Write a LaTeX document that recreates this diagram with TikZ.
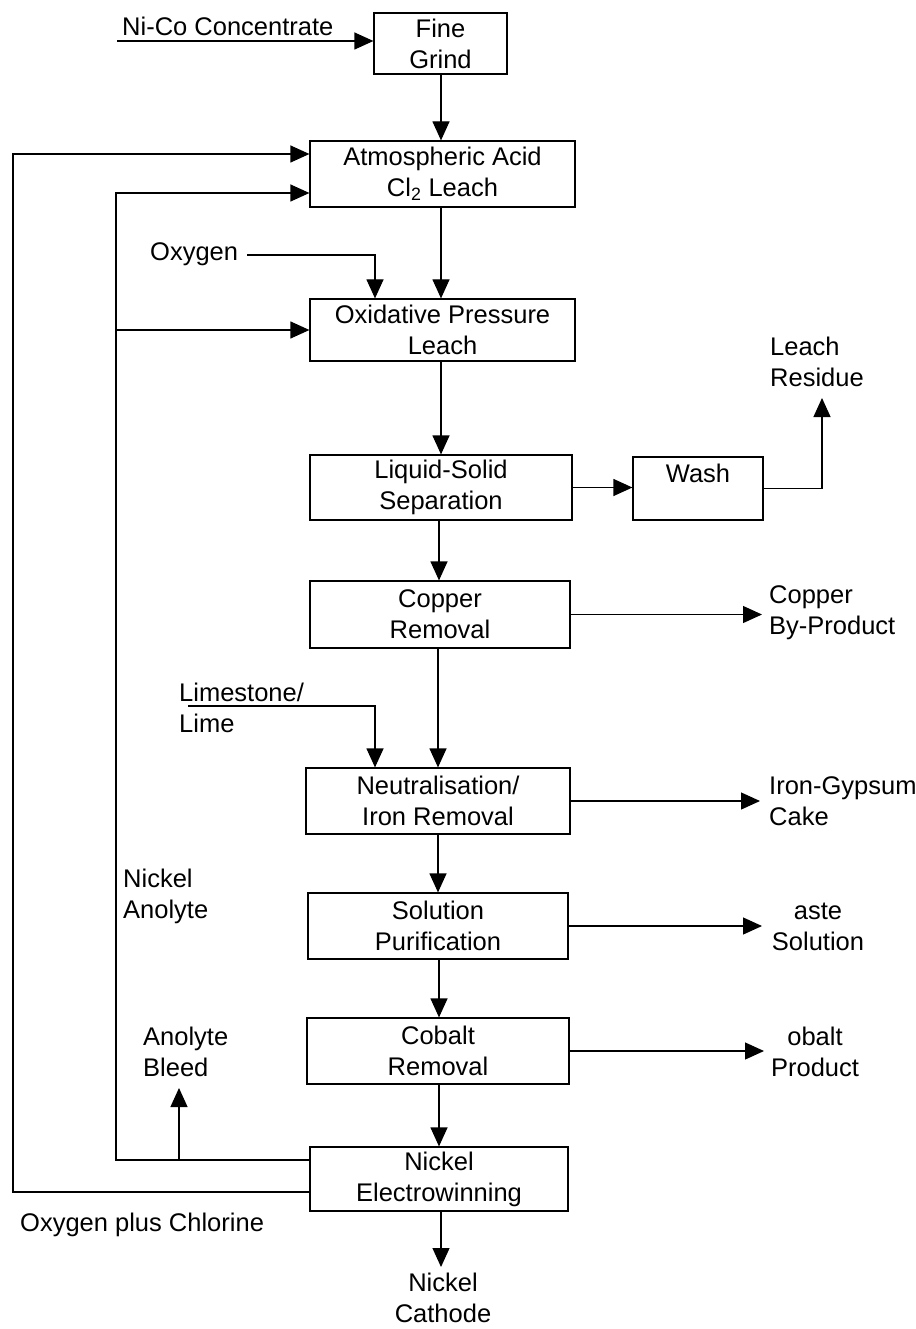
\documentclass[tikz,border=0pt]{standalone}
\usepackage{fontspec}
\setmainfont{Liberation Sans}
\usetikzlibrary{arrows.meta}
\tikzset{
  arr/.style={line width=1.2bp,-{Triangle[length=19bp,width=17bp]}},
  ln/.style={line width=1.2bp},
  box/.style={draw,line width=1.2bp,inner sep=0pt,align=center},
  lbl/.style={inner sep=0pt,align=left},
  clbl/.style={inner sep=0pt,align=center}
}
\begin{document}
\begin{tikzpicture}[x=1bp,y=-1bp,font=\fontsize{25.5bp}{31bp}\selectfont]
\useasboundingbox (0,0) rectangle (915,1329);
% process boxes
\node[box,minimum width=133bp,minimum height=61bp] (fg) at (440.5,43.5) {Fine\\Grind};
\node[box,minimum width=265bp,minimum height=66bp] (at) at (442.5,174) {Atmospheric Acid\\Cl\textsubscript{2} Leach};
\node[box,minimum width=265bp,minimum height=62bp] (ox) at (442.5,330) {Oxidative Pressure\\Leach};
\node[box,minimum width=262bp,minimum height=65bp] (ls) at (441,487.5) {Liquid-Solid\\Separation};
\node[box,minimum width=130bp,minimum height=63bp] (wa) at (698,488.5) {Wash\\\mbox{}};
\node[box,minimum width=260bp,minimum height=67bp] (cu) at (440,614.5) {Copper\\Removal};
\node[box,minimum width=264bp,minimum height=66bp] (ne) at (438,801) {Neutralisation/\\Iron Removal};
\node[box,minimum width=260bp,minimum height=66bp] (sp) at (438,926) {Solution\\Purification};
\node[box,minimum width=262bp,minimum height=66bp] (co) at (438,1051) {Cobalt\\Removal};
\node[box,minimum width=258bp,minimum height=64bp] (ni) at (439,1179) {Nickel\\Electrowinning};
% labels
\node[lbl,anchor=west] (nico) at (122,26) {Ni-Co Concentrate};
\node[lbl,anchor=west] (oxy) at (150,254) {Oxygen};
\node[lbl,anchor=west] (res) at (770,362) {Leach\\Residue};
\node[lbl,anchor=west] (cbp) at (769,612.5) {Copper\\By-Product};
\node[lbl,anchor=west] (lime) at (179,707.5) {Limestone/\\Lime};
\node[lbl,anchor=west] (igc) at (769,801) {Iron-Gypsum\\Cake};
\node[lbl,anchor=west] (nan) at (123,896) {Nickel\\Anolyte};
\node[clbl] (was) at (818,927) {aste\\Solution};
\node[clbl] (cop) at (815,1052) {obalt\\Product};
\node[lbl,anchor=west] (bleed) at (143,1052) {Anolyte\\Bleed};
\node[lbl,anchor=west] (opc) at (20,1225) {Oxygen plus Chlorine};
\node[clbl] (cat) at (443,1298) {Nickel\\Cathode};
% coordinates
\coordinate (nicS) at (117,41);
\coordinate (o1) at (13,1192);
\coordinate (o2) at (13,154);
\coordinate (i1) at (116,1160);
\coordinate (i2) at (116,193);
\coordinate (i3) at (116,330);
\coordinate (b1) at (179,1160);
\coordinate (b2) at (179,1088);
\coordinate (oxS) at (247,255);
\coordinate (oxC) at (375,255);
\coordinate (r1) at (822,398);
\coordinate (limS) at (188,706);
\coordinate (limC) at (375,706);
\coordinate (cuT) at (762,612);
\coordinate (neT) at (760,801);
\coordinate (spT) at (762,926);
\coordinate (coT) at (764,1051);
\coordinate (niT) at (441,1267);
% connectors
\draw[arr] (nicS) -- (nicS -| fg.west);
\draw[arr] (fg.south -| 441,0) -- (at.north -| 441,0);
\draw[arr] (at.south -| 441,0) -- (ox.north -| 441,0);
\draw[arr] (oxS) -- (oxC) -- (oxC |- ox.north);
\draw[arr] (ox.south -| 441,0) -- (ls.north -| 441,0);
\draw[arr] (ls.east) -- (ls.east -| wa.west);
\draw[arr] (wa.east) -- (wa.east -| r1) -- (r1);
\draw[arr] (ls.south -| 439,0) -- (cu.north -| 439,0);
\draw[arr] (cu.east) -- (cu.east -| cuT);
\draw[arr] (limS) -- (limC) -- (limC |- ne.north);
\draw[arr] (cu.south -| 438,0) -- (ne.north -| 438,0);
\draw[arr] (ne.east) -- (neT);
\draw[arr] (ne.south -| 438,0) -- (sp.north -| 438,0);
\draw[arr] (sp.east) -- (spT);
\draw[arr] (sp.south -| 439,0) -- (co.north -| 439,0);
\draw[arr] (co.east) -- (coT);
\draw[arr] (co.south -| 439,0) -- (ni.north -| 439,0);
\draw[arr] (ni.south -| niT) -- (niT);
\draw[arr] (ni.west |- o1) -- (o1) -- (o2) -- (o2 -| at.west);
\draw[arr] (ni.west |- i1) -- (i1) -- (i2) -- (i2 -| at.west);
\draw[arr] (i3) -- (i3 -| ox.west);
\draw[arr] (b1) -- (b2);
\end{tikzpicture}
\end{document}
